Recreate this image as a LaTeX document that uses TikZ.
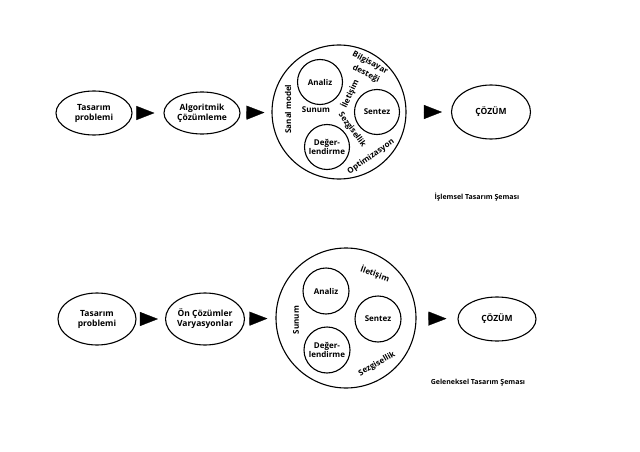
\documentclass[tikz,border=0pt]{standalone}
\usepackage{fontspec}
\setmainfont{Open Sans}
\usepackage{tikz}
\usetikzlibrary{positioning,shapes.geometric,arrows.meta}

\begin{document}
\begin{tikzpicture}[x=1pt,y=-1pt,
  yazi/.style={font=\bfseries\fontsize{8}{9.5}\selectfont,align=center,inner sep=0pt},
  kutu/.style={ellipse,draw,line width=1.1pt,minimum width=76pt,minimum height=44pt,yazi,
    font=\bfseries\fontsize{8.5}{10}\selectfont},
  daire/.style={circle,draw,line width=1.1pt,minimum size=45pt,yazi},
  buyuk/.style={circle,draw,line width=1.1pt,minimum size=134pt},
  ok/.style={-{Triangle[length=18pt,width=14pt]},line width=0.3pt}]
  \useasboundingbox (0,0) rectangle (640,452);

  % islemsel tasarim
  \node[kutu] (p1) at (94,113) {Tasarım\\problemi};
  \node[kutu,minimum height=42pt] (a1) at (202,113) {Algoritmik\\Çözümleme};
  \node[buyuk] (b1) at (339,112) {};
  \node[kutu,minimum width=79pt,minimum height=54pt] (c1) at (491,112) {ÇÖZÜM};

  \node[daire] (analiz1) at (320,82) {Analiz};
  \node[daire] (sentez1) at (377,112) {Sentez};
  \node[daire] (deger1) at (327,147) {Değer-\\lendirme};

  \node[yazi] (sunum1) at (316,110) {Sunum};
  \node[yazi,rotate=90] (sanal1) at (288,109) {Sanal model};
  \node[yazi,rotate=65] (ileti1) at (350,94) {İletişim};
  \node[yazi,rotate=-28] (bilg1) at (370,63) {Bilgisayar};
  \node[yazi,rotate=-26] (dest1) at (366,74) {desteği};
  \node[yazi,rotate=-54] (sezgi1) at (352,130) {Sezgisellik};
  \node[yazi,rotate=35] (opti1) at (371,157) {Optimizasyon};

  \node[yazi,font=\bfseries\fontsize{7}{8}\selectfont] (baslik1) at (477,197) {İşlemsel Tasarım Şeması};

  \path[ok]
  (p1) edge [shorten <=6pt,shorten >=9pt] (a1)
  (a1) edge [shorten <=7pt,shorten >=7pt] (b1)
  (b1) edge [shorten <=17pt,shorten >=9pt] (c1)
  ;

  % geleneksel tasarim
  \node[kutu,minimum width=78pt,minimum height=52pt] (p2) at (97,319) {Tasarım\\problemi};
  \node[kutu,minimum height=52pt] (a2) at (205,319) {Ön Çözümler\\Varyasyonlar};
  \node[buyuk,minimum size=140pt] (b2) at (346,318) {};
  \node[kutu,minimum width=78pt] (c2) at (497,319) {ÇÖZÜM};

  \node[daire,minimum size=46pt] (analiz2) at (326,291) {Analiz};
  \node[daire,minimum size=46pt] (sentez2) at (378,319) {Sentez};
  \node[daire,minimum size=46pt] (deger2) at (327,350) {Değer-\\lendirme};

  \node[yazi,rotate=90] (sunum2) at (296,320) {Sunum};
  \node[yazi,rotate=-20] (ileti2) at (375,274) {İletişim};
  \node[yazi,rotate=30] (sezgi2) at (377,364) {Sezgisellik};

  \node[yazi,font=\bfseries\fontsize{7}{8}\selectfont] (baslik2) at (478,383) {Geleneksel Tasarım Şeması};

  \path[ok]
  (p2) edge [shorten <=6pt,shorten >=7pt] (a2)
  (a2) edge [shorten <=8pt,shorten >=8pt] (b2)
  (b2) edge [shorten <=12pt,shorten >=11pt] (c2)
  ;
\end{tikzpicture}
\end{document}
